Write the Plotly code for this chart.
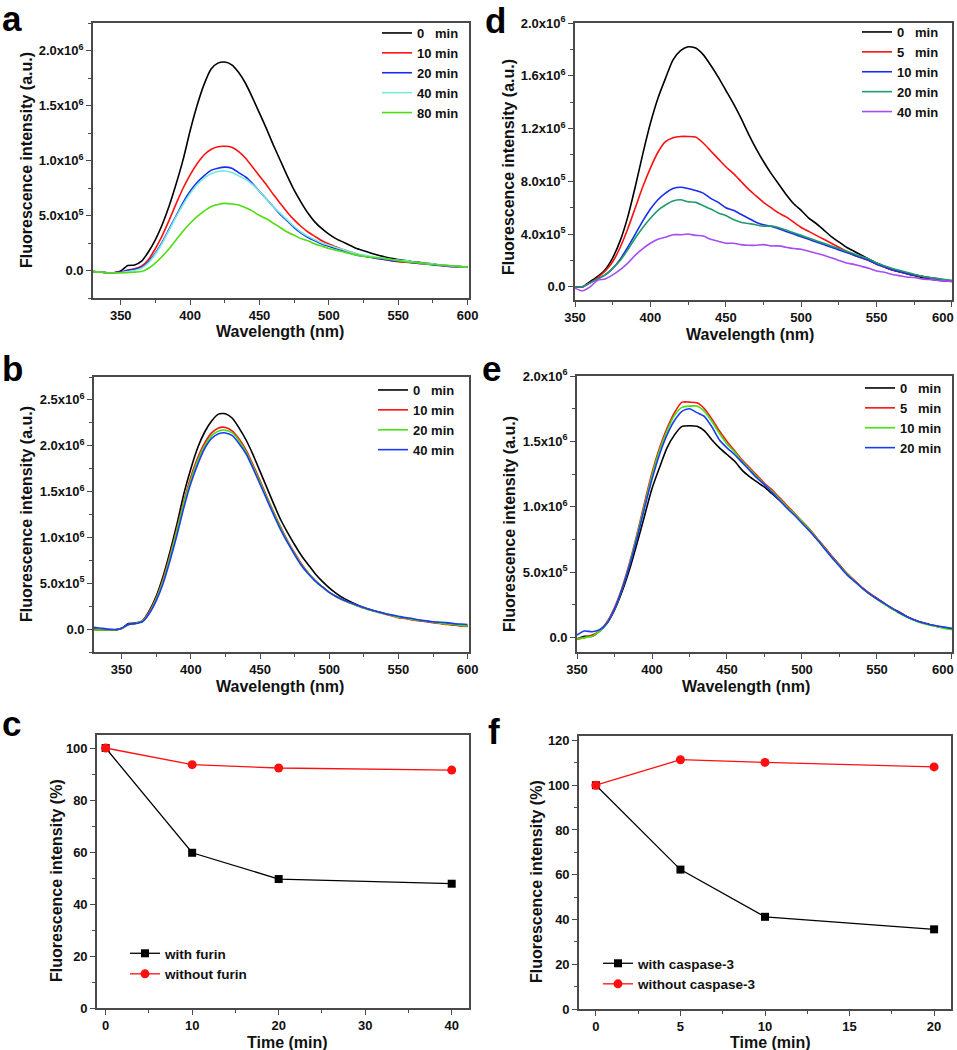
import plotly.graph_objects as go

# ---------------- DATA ----------------
wl_ab = list(range(330, 601, 5))
wl_de = list(range(350, 601, 5))

# Panel a (units of 10^6 a.u.)
a_0 = [-0.01, -0.015, -0.02, -0.02, -0.005, 0.045, 0.05, 0.085, 0.17, 0.28, 0.42, 0.59, 0.79, 1.01, 1.27,
       1.50, 1.69, 1.83, 1.885, 1.895, 1.87, 1.80, 1.70, 1.57, 1.43, 1.29, 1.14, 1.00, 0.86, 0.73, 0.62,
       0.52, 0.44, 0.38, 0.33, 0.29, 0.26, 0.23, 0.20, 0.18, 0.16, 0.14, 0.125, 0.11, 0.10, 0.09, 0.08,
       0.075, 0.065, 0.06, 0.05, 0.045, 0.04, 0.035, 0.03]
a_10 = [-0.01, -0.015, -0.02, -0.02, -0.015, 0.005, 0.015, 0.04, 0.10, 0.20, 0.32, 0.46, 0.61, 0.75, 0.87,
        0.97, 1.05, 1.10, 1.125, 1.13, 1.12, 1.08, 1.02, 0.94, 0.86, 0.78, 0.69, 0.61, 0.53, 0.46, 0.40,
        0.35, 0.31, 0.27, 0.24, 0.215, 0.19, 0.17, 0.15, 0.135, 0.12, 0.11, 0.10, 0.09, 0.08, 0.075, 0.07,
        0.065, 0.06, 0.055, 0.045, 0.04, 0.035, 0.03, 0.03]
a_20 = [-0.01, -0.015, -0.02, -0.02, -0.015, 0.0, 0.01, 0.03, 0.08, 0.16, 0.26, 0.38, 0.50, 0.62, 0.72,
        0.80, 0.86, 0.91, 0.93, 0.94, 0.93, 0.89, 0.85, 0.79, 0.72, 0.65, 0.58, 0.51, 0.45, 0.39, 0.34,
        0.30, 0.27, 0.24, 0.22, 0.20, 0.18, 0.16, 0.14, 0.13, 0.12, 0.11, 0.10, 0.09, 0.085, 0.08, 0.07,
        0.065, 0.06, 0.05, 0.045, 0.04, 0.035, 0.03, 0.03]
a_40 = [-0.01, -0.015, -0.02, -0.02, -0.02, -0.01, 0.0, 0.02, 0.07, 0.15, 0.25, 0.37, 0.49, 0.60, 0.70,
        0.78, 0.84, 0.88, 0.90, 0.905, 0.89, 0.86, 0.83, 0.78, 0.72, 0.65, 0.58, 0.52, 0.46, 0.40, 0.35,
        0.31, 0.28, 0.25, 0.23, 0.21, 0.19, 0.17, 0.15, 0.14, 0.13, 0.12, 0.11, 0.10, 0.095, 0.09, 0.08,
        0.07, 0.065, 0.06, 0.05, 0.045, 0.04, 0.035, 0.03]
a_80 = [-0.01, -0.015, -0.02, -0.02, -0.02, -0.02, -0.015, -0.01, 0.02, 0.07, 0.13, 0.20, 0.28, 0.36, 0.43,
        0.49, 0.54, 0.58, 0.60, 0.61, 0.605, 0.595, 0.57, 0.54, 0.50, 0.47, 0.43, 0.39, 0.35, 0.32, 0.29,
        0.27, 0.24, 0.22, 0.20, 0.185, 0.17, 0.155, 0.14, 0.13, 0.12, 0.115, 0.11, 0.10, 0.09, 0.08, 0.075,
        0.07, 0.06, 0.055, 0.05, 0.045, 0.04, 0.035, 0.03]

# Panel b (units of 10^6 a.u.)
b_0 = [0.0, -0.005, -0.01, -0.01, 0.01, 0.06, 0.065, 0.09, 0.20, 0.36, 0.58, 0.85, 1.15, 1.48, 1.75,
       1.98, 2.15, 2.27, 2.345, 2.35, 2.30, 2.19, 2.06, 1.90, 1.72, 1.54, 1.36, 1.19, 1.05, 0.92, 0.80,
       0.70, 0.60, 0.52, 0.45, 0.39, 0.34, 0.30, 0.265, 0.235, 0.21, 0.19, 0.17, 0.15, 0.13, 0.12, 0.105,
       0.095, 0.085, 0.075, 0.065, 0.055, 0.045, 0.04, 0.03]
b_10 = [-0.01, -0.01, -0.01, -0.01, 0.005, 0.05, 0.06, 0.09, 0.19, 0.34, 0.55, 0.81, 1.10, 1.40, 1.66,
        1.87, 2.03, 2.14, 2.195, 2.20, 2.16, 2.07, 1.95, 1.79, 1.62, 1.44, 1.27, 1.11, 0.96, 0.83, 0.71,
        0.61, 0.53, 0.46, 0.40, 0.355, 0.315, 0.285, 0.255, 0.23, 0.205, 0.185, 0.165, 0.145, 0.125, 0.115,
        0.10, 0.09, 0.08, 0.07, 0.06, 0.05, 0.045, 0.035, 0.03]
b_20 = [-0.01, -0.01, -0.01, -0.01, 0.005, 0.05, 0.06, 0.09, 0.18, 0.33, 0.53, 0.79, 1.08, 1.38, 1.63,
        1.84, 2.00, 2.11, 2.16, 2.17, 2.14, 2.05, 1.93, 1.77, 1.60, 1.43, 1.26, 1.10, 0.95, 0.82, 0.70,
        0.61, 0.53, 0.46, 0.40, 0.355, 0.315, 0.285, 0.255, 0.23, 0.205, 0.185, 0.165, 0.15, 0.13, 0.12,
        0.105, 0.095, 0.085, 0.075, 0.065, 0.055, 0.05, 0.04, 0.035]
b_40 = [0.02, 0.01, 0.0, -0.005, 0.01, 0.05, 0.06, 0.08, 0.17, 0.31, 0.50, 0.75, 1.03, 1.33, 1.59,
        1.80, 1.97, 2.08, 2.13, 2.14, 2.11, 2.02, 1.91, 1.75, 1.58, 1.41, 1.24, 1.08, 0.94, 0.81, 0.69,
        0.60, 0.52, 0.46, 0.40, 0.355, 0.32, 0.29, 0.26, 0.235, 0.21, 0.19, 0.17, 0.155, 0.14, 0.125, 0.115,
        0.10, 0.09, 0.08, 0.075, 0.07, 0.06, 0.055, 0.05]

# Panel d (units of 10^6 a.u.)
d_0 = [0.0, 0.0, 0.04, 0.08, 0.13, 0.22, 0.35, 0.53, 0.76, 1.01, 1.24, 1.43, 1.58, 1.72, 1.79, 1.82,
       1.81, 1.76, 1.68, 1.59, 1.49, 1.39, 1.28, 1.16, 1.05, 0.95, 0.86, 0.78, 0.70, 0.63, 0.58, 0.52,
       0.48, 0.43, 0.38, 0.34, 0.30, 0.27, 0.24, 0.21, 0.18, 0.155, 0.13, 0.115, 0.10, 0.085, 0.07, 0.06,
       0.05, 0.045, 0.04]
d_5 = [0.0, 0.0, 0.03, 0.07, 0.12, 0.19, 0.30, 0.44, 0.60, 0.76, 0.90, 1.02, 1.10, 1.13, 1.14, 1.14,
       1.135, 1.09, 1.03, 0.97, 0.91, 0.86, 0.80, 0.74, 0.69, 0.64, 0.60, 0.56, 0.53, 0.49, 0.45, 0.42,
       0.39, 0.36, 0.33, 0.30, 0.27, 0.24, 0.22, 0.20, 0.17, 0.15, 0.13, 0.115, 0.10, 0.09, 0.08, 0.07,
       0.06, 0.05, 0.045]
d_10 = [0.0, 0.0, 0.03, 0.06, 0.09, 0.14, 0.21, 0.30, 0.40, 0.50, 0.59, 0.66, 0.71, 0.745, 0.755, 0.745,
        0.73, 0.71, 0.67, 0.64, 0.60, 0.58, 0.55, 0.52, 0.49, 0.47, 0.46, 0.44, 0.42, 0.40, 0.38, 0.36,
        0.34, 0.32, 0.30, 0.28, 0.26, 0.24, 0.22, 0.20, 0.17, 0.15, 0.13, 0.115, 0.10, 0.09, 0.08, 0.07,
        0.06, 0.05, 0.045]
d_20 = [0.0, 0.0, 0.03, 0.06, 0.09, 0.14, 0.20, 0.28, 0.37, 0.45, 0.52, 0.58, 0.62, 0.65, 0.66, 0.645,
        0.64, 0.615, 0.59, 0.56, 0.54, 0.51, 0.49, 0.48, 0.47, 0.46, 0.46, 0.45, 0.43, 0.41, 0.39, 0.37,
        0.35, 0.33, 0.31, 0.29, 0.27, 0.25, 0.23, 0.21, 0.18, 0.16, 0.14, 0.125, 0.11, 0.095, 0.08, 0.07,
        0.065, 0.055, 0.05]
d_40 = [-0.01, -0.03, 0.0, 0.05, 0.06, 0.09, 0.13, 0.18, 0.24, 0.29, 0.33, 0.36, 0.375, 0.395, 0.395, 0.40,
        0.39, 0.385, 0.36, 0.345, 0.33, 0.33, 0.32, 0.315, 0.315, 0.32, 0.31, 0.31, 0.30, 0.29, 0.285, 0.27,
        0.255, 0.24, 0.22, 0.20, 0.18, 0.17, 0.155, 0.14, 0.12, 0.11, 0.095, 0.085, 0.075, 0.07, 0.06, 0.055,
        0.05, 0.045, 0.04]

# Panel e (units of 10^6 a.u.)
e_0 = [-0.01, 0.01, 0.01, 0.05, 0.11, 0.21, 0.35, 0.52, 0.72, 0.93, 1.14, 1.30, 1.45, 1.55, 1.615, 1.62,
       1.615, 1.58, 1.51, 1.45, 1.40, 1.35, 1.28, 1.23, 1.19, 1.15, 1.10, 1.05, 0.995, 0.94, 0.885, 0.82,
       0.755, 0.69, 0.62, 0.555, 0.49, 0.435, 0.38, 0.335, 0.30, 0.26, 0.22, 0.195, 0.16, 0.135, 0.115, 0.10,
       0.085, 0.075, 0.07]
e_5 = [-0.01, 0.0, 0.02, 0.05, 0.12, 0.23, 0.38, 0.57, 0.79, 1.03, 1.26, 1.45, 1.60, 1.72, 1.80, 1.80,
       1.795, 1.75, 1.67, 1.58, 1.50, 1.43, 1.36, 1.30, 1.24, 1.18, 1.13, 1.07, 1.01, 0.95, 0.89, 0.83,
       0.76, 0.69, 0.62, 0.555, 0.49, 0.435, 0.385, 0.34, 0.30, 0.26, 0.225, 0.19, 0.16, 0.135, 0.115, 0.10,
       0.085, 0.075, 0.065]
e_10 = [-0.01, 0.0, 0.01, 0.05, 0.11, 0.22, 0.37, 0.56, 0.78, 1.01, 1.24, 1.43, 1.58, 1.70, 1.76, 1.77,
        1.77, 1.73, 1.65, 1.56, 1.48, 1.42, 1.35, 1.29, 1.23, 1.17, 1.12, 1.06, 1.00, 0.945, 0.885, 0.825,
        0.755, 0.685, 0.615, 0.55, 0.485, 0.43, 0.38, 0.335, 0.295, 0.255, 0.22, 0.185, 0.155, 0.13, 0.11,
        0.095, 0.085, 0.07, 0.06]
e_20 = [0.02, 0.05, 0.045, 0.06, 0.11, 0.22, 0.37, 0.55, 0.76, 0.99, 1.21, 1.40, 1.55, 1.66, 1.73, 1.75,
        1.72, 1.69, 1.61, 1.51, 1.45, 1.40, 1.34, 1.28, 1.22, 1.17, 1.11, 1.05, 0.99, 0.935, 0.875, 0.815,
        0.75, 0.68, 0.61, 0.545, 0.48, 0.43, 0.38, 0.335, 0.295, 0.26, 0.225, 0.19, 0.16, 0.135, 0.115, 0.10,
        0.09, 0.08, 0.07]

# Panel c
time_c = [0, 10, 20, 40]
c_with = [100, 59.7, 49.6, 47.8]
c_without = [100, 93.6, 92.3, 91.5]

# Panel f
time_f = [0, 5, 10, 20]
f_with = [100, 62.3, 41.2, 35.6]
f_without = [100, 111.4, 110.2, 108.2]

# ---------------- STYLE ----------------
W, H = 957, 1050
FONT = "Liberation Sans, Arial, sans-serif"
AXC = "#4a4a4a"
NB = "\u00a0"


def px_x(p):
    return p / W


def px_y(p):
    return 1 - p / H


fig = go.Figure()


def spec(x, y, name, color, ax, leg):
    fig.add_trace(go.Scatter(x=x, y=y, name=name, mode="lines",
                             line=dict(color=color, width=1.6, shape="spline", smoothing=0.6),
                             xaxis="x" + ax, yaxis="y" + ax, legend=leg))


spec(wl_ab, a_0, "0" + NB * 3 + "min", "#000000", "", "legend")
spec(wl_ab, a_10, "10 min", "#ff1010", "", "legend")
spec(wl_ab, a_20, "20 min", "#1a2cf0", "", "legend")
spec(wl_ab, a_40, "40 min", "#78ecdc", "", "legend")
spec(wl_ab, a_80, "80 min", "#4fdc10", "", "legend")

spec(wl_ab, b_0, "0" + NB * 3 + "min", "#000000", "2", "legend2")
spec(wl_ab, b_10, "10 min", "#ff1010", "2", "legend2")
spec(wl_ab, b_20, "20 min", "#44e010", "2", "legend2")
spec(wl_ab, b_40, "40 min", "#1a3cf5", "2", "legend2")

spec(wl_de, d_0, "0" + NB * 3 + "min", "#000000", "4", "legend4")
spec(wl_de, d_5, "5" + NB * 3 + "min", "#ff1010", "4", "legend4")
spec(wl_de, d_10, "10 min", "#1a2cf0", "4", "legend4")
spec(wl_de, d_20, "20 min", "#239a6c", "4", "legend4")
spec(wl_de, d_40, "40 min", "#a64cf5", "4", "legend4")

spec(wl_de, e_0, "0" + NB * 3 + "min", "#000000", "5", "legend5")
spec(wl_de, e_5, "5" + NB * 3 + "min", "#ff1010", "5", "legend5")
spec(wl_de, e_10, "10 min", "#44e010", "5", "legend5")
spec(wl_de, e_20, "20 min", "#1a3cf5", "5", "legend5")


def pts(x, y, name, color, symbol, size, ax, leg):
    fig.add_trace(go.Scatter(x=x, y=y, name=name, mode="lines+markers",
                             line=dict(color=color, width=1.3),
                             marker=dict(color=color, symbol=symbol, size=size),
                             xaxis="x" + ax, yaxis="y" + ax, legend=leg))


pts(time_c, c_with, "with furin", "#000000", "square", 8, "3", "legend3")
pts(time_c, c_without, "without furin", "#ff1010", "circle", 9, "3", "legend3")
pts(time_f, f_with, "with caspase-3", "#000000", "square", 8, "6", "legend6")
pts(time_f, f_without, "without caspase-3", "#ff1010", "circle", 9, "6", "legend6")

tickfont = dict(family=FONT, size=13, color="#111111", weight="bold")


def axis(dom, rng, tickvals, ticktext, minor_vals, anchor):
    return dict(domain=dom, range=rng, tickmode="array", tickvals=tickvals, ticktext=ticktext,
                ticks="outside", ticklen=5, tickwidth=1.3, tickcolor=AXC,
                minor=dict(ticks="outside", ticklen=3, tickwidth=1.2, tickcolor=AXC,
                           tickmode="array", tickvals=minor_vals),
                showline=True, linecolor=AXC, linewidth=1.6, mirror=True, automargin=False,
                ticklabeloverflow="allow",
                showgrid=False, zeroline=False, tickfont=tickfont, anchor=anchor)


wl_ticks = [350, 400, 450, 500, 550, 600]
wl_text = [str(v) for v in wl_ticks]
wl_text_edge = wl_text[:-1] + [wl_text[-1] + NB * 5]
wl_minor = [325, 375, 425, 475, 525, 575]

y_ab_vals = [0, 0.5, 1.0, 1.5, 2.0, 2.5]
y_ab_text = ["0.0", "5.0x10<sup>5</sup>", "1.0x10<sup>6</sup>", "1.5x10<sup>6</sup>",
             "2.0x10<sup>6</sup>", "2.5x10<sup>6</sup>"]
y_ab_minor = [-0.25, 0.25, 0.75, 1.25, 1.75, 2.25, 2.75]
y_d_vals = [0, 0.4, 0.8, 1.2, 1.6, 2.0]
y_d_text = ["0.0", "4.0x10<sup>5</sup>", "8.0x10<sup>5</sup>", "1.2x10<sup>6</sup>",
            "1.6x10<sup>6</sup>", "2.0x10<sup>6</sup>"]
y_d_minor = [0.2, 0.6, 1.0, 1.4, 1.8]
y_e_vals = [0, 0.5, 1.0, 1.5, 2.0]
y_e_text = ["0.0", "5.0x10<sup>5</sup>", "1.0x10<sup>6</sup>", "1.5x10<sup>6</sup>", "2.0x10<sup>6</sup>"]
y_e_minor = [0.25, 0.75, 1.25, 1.75]

pct_vals = [0, 20, 40, 60, 80, 100, 120]
pct_text = [str(v) for v in pct_vals]
pct_minor = [10, 30, 50, 70, 90, 110]

# panel boxes in pixels: (left, right, top, bottom)
box = {
    "a": (93, 469, 23, 298),
    "b": (94, 469, 377, 652),
    "c": (97, 469, 735, 1008),
    "d": (575, 952, 23, 300),
    "e": (577, 952, 376, 652),
    "f": (579, 951, 736, 1009),
}


def xd(k):
    l, r, t, b = box[k]
    return [px_x(l), px_x(r)]


def yd(k):
    l, r, t, b = box[k]
    return [px_y(b), px_y(t)]


layout = dict(
    width=W, height=H, margin=dict(l=0, r=0, t=0, b=0, autoexpand=False),
    paper_bgcolor="white", plot_bgcolor="white",
    font=dict(family=FONT, color="#111111"),
    xaxis=axis(xd("a"), [330, 601], wl_ticks, wl_text, wl_minor, "y"),
    yaxis=axis(yd("a"), [-0.25, 2.25], y_ab_vals[:5], y_ab_text[:5], y_ab_minor[:6], "x"),
    xaxis2=axis(xd("b"), [330, 601], wl_ticks, wl_text, wl_minor, "y2"),
    yaxis2=axis(yd("b"), [-0.25, 2.75], y_ab_vals, y_ab_text, y_ab_minor, "x2"),
    xaxis3=axis(xd("c"), [-1, 42], [0, 10, 20, 30, 40], ["0", "10", "20", "30", "40"], [5, 15, 25, 35], "y3"),
    yaxis3=axis(yd("c"), [0, 105], pct_vals[:6], pct_text[:6], pct_minor[:5], "x3"),
    xaxis4=axis(xd("d"), [350, 600.01], wl_ticks, wl_text_edge, wl_minor, "y4"),
    yaxis4=axis(yd("d"), [-0.1, 2.0], y_d_vals, y_d_text, y_d_minor, "x4"),
    xaxis5=axis(xd("e"), [350, 600.01], wl_ticks, wl_text_edge, wl_minor, "y5"),
    yaxis5=axis(yd("e"), [-0.11, 2.0], y_e_vals, y_e_text, y_e_minor, "x5"),
    xaxis6=axis(xd("f"), [-1, 21], [0, 5, 10, 15, 20], ["0", "5", "10", "15", "20"], [2.5, 7.5, 12.5, 17.5], "y6"),
    yaxis6=axis(yd("f"), [0, 122], pct_vals, pct_text, pct_minor, "x6"),
    showlegend=True,
)


def leg(xp, yp, size=13):
    return dict(x=px_x(xp), y=px_y(yp), xanchor="left", yanchor="top", bgcolor="rgba(0,0,0,0)",
                font=dict(family=FONT, size=size, color="#111111", weight="bold"),
                tracegroupgap=0, itemwidth=30, borderwidth=0)


layout["legend"] = leg(377, 18)
layout["legend2"] = leg(373, 375)
layout["legend4"] = leg(857, 17)
layout["legend5"] = leg(860, 373)
layout["legend3"] = leg(125, 938, 13.5)
layout["legend6"] = leg(598, 948, 13.5)

fig.update_layout(**layout)

# Axis titles and panel letters as annotations
anns = []
tf = dict(family=FONT, size=16, color="#111111")


def title(text, xp, yp, angle=0):
    anns.append(dict(text="<b>" + text + "</b>", x=px_x(xp), y=px_y(yp), xref="paper", yref="paper",
                     showarrow=False, textangle=angle, font=tf, xanchor="center", yanchor="middle"))


title("Wavelength (nm)", 280, 332)
title("Wavelength (nm)", 750, 334)
title("Wavelength (nm)", 280, 686)
title("Wavelength (nm)", 746, 686)
title("Time (min)", 287, 1042)
title("Time (min)", 770, 1042)
title("Fluorescence intensity (a.u.)", 26, 160, -90)
title("Fluorescence intensity (a.u.)", 508, 167, -90)
title("Fluorescence intensity (a.u.)", 26, 514, -90)
title("Fluorescence intensity (a.u.)", 509, 524, -90)
title("Fluorescence intensity (%)", 56, 881, -90)
title("Fluorescence intensity (%)", 536, 882, -90)

lf = dict(family=FONT, size=35, color="#000000")
for letter, xp, yp in [("a", 12, 19), ("d", 495, 20), ("b", 12, 368), ("e", 491, 368),
                       ("c", 11, 723), ("f", 494, 731)]:
    anns.append(dict(text="<b>" + letter + "</b>", x=px_x(xp), y=px_y(yp), xref="paper", yref="paper",
                     showarrow=False, font=lf, xanchor="center", yanchor="middle"))

fig.update_layout(annotations=anns)
fig.write_html("out.html", config={"displayModeBar": False},
               post_script="document.body.style.margin='0px';document.body.style.overflow='hidden';")
